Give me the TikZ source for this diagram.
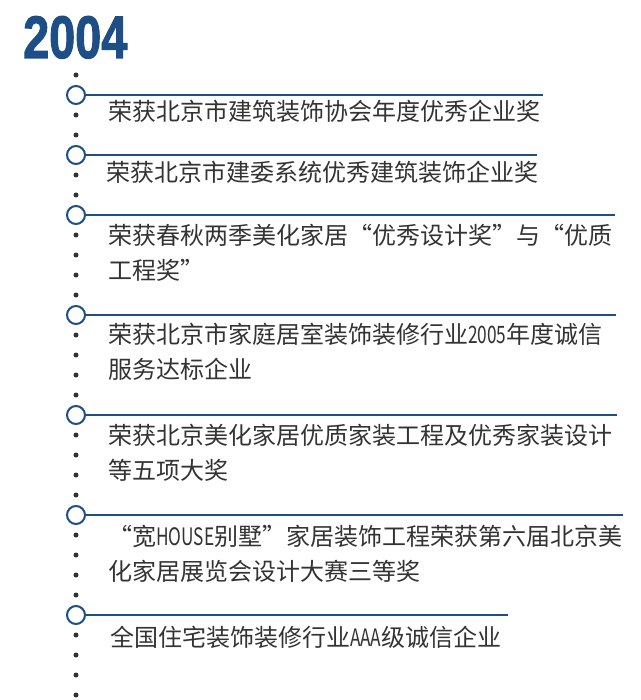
\documentclass[tikz,border=0pt]{standalone}
\usepackage{fontspec}
\usepackage{graphicx}
\usetikzlibrary{positioning}
\setmainfont{Noto Sans CJK SC}
\newfontfamily\yearfont{Liberation Sans Bold}[FakeBold=2]
\definecolor{tlBlue}{RGB}{29,79,134}
\definecolor{tlText}{RGB}{51,51,51}
\definecolor{tlDot}{RGB}{51,51,51}
\newcommand{\lat}[1]{\scalebox{0.72}[1]{#1}}
\tikzset{
    ring/.style={circle,draw=tlBlue,line width=2pt,fill=white,minimum size=18pt,inner sep=0pt},
    dot/.style={circle,fill=tlDot,minimum size=5pt,inner sep=0pt},
    rule/.style={draw=tlBlue,line width=2.2pt},
    item/.style={anchor=base west,inner sep=0pt,align=left,text=tlText,
        font=\fontsize{24}{35}\selectfont}
}
\begin{document}
\begin{tikzpicture}[x=1pt,y=-1pt]
    \useasboundingbox (0,0) rectangle (640,700);
    % year
    \node[anchor=base west,inner sep=0pt,text=tlBlue] (year) at (23,58)
        {\fontsize{60}{60}\yearfont\scalebox{0.78}[1]{2004}};
    % dotted spine
    \foreach \k in {0,...,31}
        \node[dot] (d\k) at (76,75+20*\k) {};
    % rings and rules
    \node[ring] (c1) at (76,95)  {};
    \node[ring] (c2) at (76,155) {};
    \node[ring] (c3) at (76,215) {};
    \node[ring] (c4) at (76,315) {};
    \node[ring] (c5) at (76,415) {};
    \node[ring] (c6) at (76,515) {};
    \node[ring] (c7) at (76,615) {};
    \coordinate (e1) at (543,95);
    \coordinate (e2) at (537,155);
    \coordinate (e3) at (615,215);
    \coordinate (e4) at (616,315);
    \coordinate (e5) at (617,415);
    \coordinate (e6) at (623,515);
    \coordinate (e7) at (508,615);
    \foreach \i in {1,...,7}
        \draw[rule] (c\i.east) -- (e\i);
    % items (two-line items sit on the baseline of their last line)
    \node[item] (t1) at (108,121) {荣获北京市建筑装饰协会年度优秀企业奖};
    \node[item] (t2) at (106,182) {荣获北京市建委系统优秀建筑装饰企业奖};
    \node[item] (t3) at (108,279) {荣获春秋两季美化家居“优秀设计奖”与“优质\\工程奖”};
    \node[item] (t4) at (108,378) {荣获北京市家庭居室装饰装修行业\lat{2005}年度诚信\\服务达标企业};
    \node[item] (t5) at (108,479) {荣获北京美化家居优质家装工程及优秀家装设计\\等五项大奖};
    \node[item] (t6) at (108,580) {“宽\lat{HOUSE}别墅”家居装饰工程荣获第六届北京美\\化家居展览会设计大赛三等奖};
    \node[item] (t7) at (110,646) {全国住宅装饰装修行业\lat{AAA}级诚信企业};
\end{tikzpicture}
\end{document}
